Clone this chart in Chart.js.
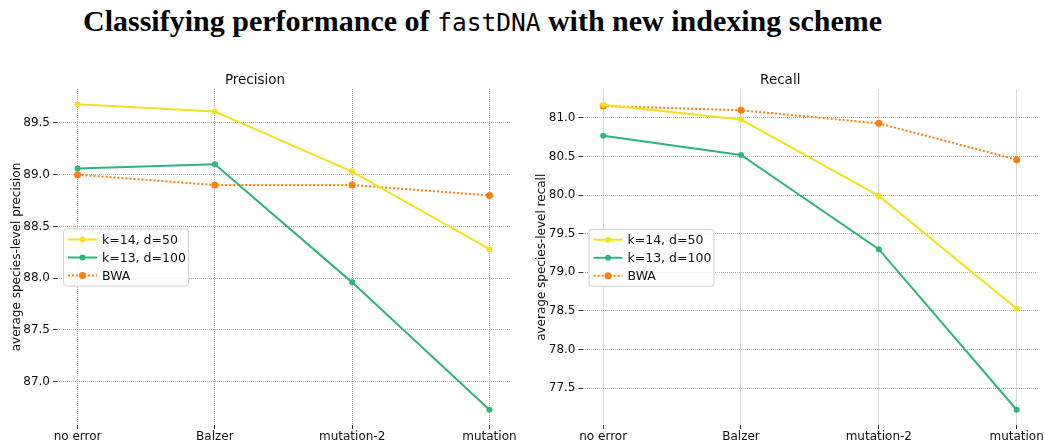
<!DOCTYPE html>
<html>
<head>
<meta charset="utf-8">
<script src="https://cdn.jsdelivr.net/npm/chart.js@4.4.0/dist/chart.umd.min.js"></script>
<style>
  html, body { margin: 0; padding: 0; background: #fff; }
  #wrap { position: relative; width: 1045px; height: 441px; overflow: hidden; }
  #title {
    position: absolute; left: 83px; top: 4px; white-space: nowrap;
    font-family: "Liberation Serif", serif; font-weight: bold; font-size: 30px; color: #000;
  }
  #title code { font-family: "DejaVu Sans Mono", monospace; font-weight: normal; font-size: 24.5px; }
  #precisionChart { position: absolute; left: 0; top: 60px; }
  #recallChart { position: absolute; left: 520px; top: 60px; }
</style>
</head>
<body>
<div id="wrap">
  <div id="title">Classifying performance of <code>fastDNA</code> with new indexing scheme</div>
  <canvas id="precisionChart" width="520" height="381"></canvas>
  <canvas id="recallChart" width="525" height="381"></canvas>
</div>
<script>
const categories = ['no error', 'Balzer', 'mutation-2', 'mutation'];
const seriesNames = ['k=14, d=50', 'k=13, d=100', 'BWA'];

const precisionK14 = [89.68, 89.61, 89.03, 88.28];
const precisionK13 = [89.06, 89.10, 87.96, 86.73];
const precisionBWA = [89.00, 88.90, 88.90, 88.80];

const recallK14 = [81.17, 80.98, 79.99, 78.53];
const recallK13 = [80.77, 80.52, 79.30, 77.22];
const recallBWA = [81.155, 81.10, 80.93, 80.46];

const COLORS = ['#f4e11e', '#2fb47c', '#ff7f0e'];
const FONT = 'DejaVu Sans';

// matplotlib-style 5% margins around the data
function limits(arrays) {
  const all = [].concat(...arrays);
  const lo = Math.min(...all), hi = Math.max(...all);
  const pad = (hi - lo) * 0.05;
  return { min: lo - pad, max: hi + pad };
}

function toPoints(values) {
  return values.map((v, i) => ({ x: i, y: v }));
}

// legend box drawn inside the plot, "center left"
const insideLegend = {
  id: 'insideLegend',
  afterDatasetsDraw(chart) {
    const ctx = chart.ctx;
    const area = chart.chartArea;
    const w = 125, h = 57;
    const x = area.left + 6;
    const y = (area.top + area.bottom) / 2 - h / 2;
    ctx.save();
    ctx.beginPath();
    ctx.roundRect(x + 0.5, y + 0.5, w, h, 3);
    ctx.fillStyle = 'rgba(255,255,255,0.85)';
    ctx.fill();
    ctx.strokeStyle = '#d0d0d0';
    ctx.lineWidth = 1;
    ctx.stroke();
    chart.data.datasets.forEach((ds, i) => {
      const cy = y + 11 + i * 18;
      ctx.beginPath();
      ctx.setLineDash(ds.borderDash || []);
      ctx.strokeStyle = ds.borderColor;
      ctx.lineWidth = 2;
      ctx.moveTo(x + 5, cy);
      ctx.lineTo(x + 34, cy);
      ctx.stroke();
      ctx.setLineDash([]);
      ctx.beginPath();
      ctx.arc(x + 19.5, cy, ds.pointRadius, 0, Math.PI * 2);
      ctx.fillStyle = ds.borderColor;
      ctx.fill();
      ctx.fillStyle = '#111';
      ctx.font = '12.5px "' + FONT + '"';
      ctx.textBaseline = 'middle';
      ctx.fillText(ds.label, x + 39, cy + 1);
    });
    ctx.restore();
  }
};

function makeChart(id, title, yLabel, series, opts) {
  const lim = limits(series);
  const ctx = document.getElementById(id).getContext('2d');
  const datasets = series.map((vals, i) => ({
    label: seriesNames[i],
    data: toPoints(vals),
    borderColor: COLORS[i],
    backgroundColor: COLORS[i],
    borderWidth: 2,
    borderDash: i === 2 ? [2, 2] : [],
    pointRadius: i === 2 ? 3.5 : 3,
    pointBorderWidth: 0,
    tension: 0
  }));
  const grid = { color: '#b4b4b4', tickColor: '#333', tickLength: 4, lineWidth: 1 };
  return new Chart(ctx, {
    type: 'line',
    data: { datasets: datasets },
    options: {
      responsive: false,
      animation: false,
      layout: { padding: { left: 0, right: opts.padRight, top: 0, bottom: 0 } },
      scales: {
        x: {
          type: 'linear',
          min: -0.15,
          max: 3.15,
          border: { display: false, dash: [1, 1] },
          grid: grid,
          ticks: {
            stepSize: 1,
            includeBounds: false,
            autoSkip: false,
            maxRotation: 0,
            padding: 1,
            color: '#111',
            font: { family: FONT, size: 12 },
            callback: v => categories[v]
          },
          afterFit: s => { s.height = 16; }
        },
        y: {
          min: lim.min,
          max: lim.max,
          border: { display: false, dash: [1, 1] },
          grid: grid,
          ticks: {
            stepSize: 0.5,
            includeBounds: false,
            padding: 3,
            color: '#111',
            font: { family: FONT, size: 12 },
            callback: v => v.toFixed(1)
          },
          title: {
            display: true,
            text: yLabel,
            color: '#111',
            font: { family: FONT, size: 12 },
            padding: { top: opts.labelPad, bottom: 0 }
          },
          afterFit: s => { s.width = opts.axisWidth; }
        }
      },
      plugins: {
        legend: { display: false },
        tooltip: { enabled: false },
        title: {
          display: true,
          text: title,
          color: '#111',
          font: { family: FONT, size: 13.5, weight: 'normal' },
          padding: { top: 12, bottom: opts.titleBottom }
        }
      }
    },
    plugins: [insideLegend]
  });
}

makeChart('precisionChart', 'Precision', 'average species-level precision',
  [precisionK14, precisionK13, precisionBWA],
  { padRight: 10, axisWidth: 57, labelPad: 10, titleBottom: 0.8 });

makeChart('recallChart', 'Recall', 'average species-level recall',
  [recallK14, recallK13, recallBWA],
  { padRight: 4.5, axisWidth: 62.5, labelPad: 15, titleBottom: 1.4 });
</script>
</body>
</html>
